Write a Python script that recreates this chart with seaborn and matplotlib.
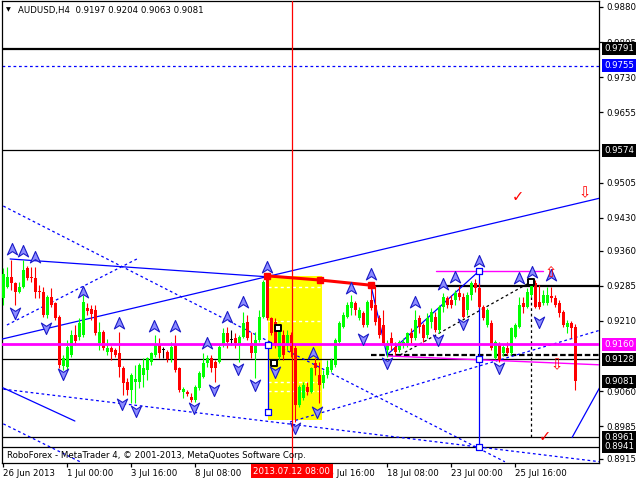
import numpy as np
import pandas as pd
import matplotlib
matplotlib.use("Agg")
import matplotlib.pyplot as plt
import seaborn as sns
from matplotlib.path import Path
from matplotlib.patches import Rectangle

sns.set_theme(style="white")
plt.rcParams["font.family"] = ["DejaVu Sans"]

# ---------------- data (AUDUSD H4) ----------------
opens = [0.9259, 0.9282, 0.9304, 0.9291, 0.9272, 0.9282, 0.9323, 0.9304, 0.9301, 0.9274,
         0.9272, 0.9222, 0.9261, 0.9248, 0.9218, 0.9114, 0.9111, 0.9137, 0.9180, 0.9175,
         0.9180, 0.9237, 0.9235, 0.9233, 0.9163, 0.9186, 0.9143, 0.9152, 0.9148, 0.9141,
         0.9109, 0.9079, 0.9062, 0.9079, 0.9079, 0.9094, 0.9105, 0.9122, 0.9137, 0.9158,
         0.9148, 0.9143, 0.9129, 0.9158, 0.9109, 0.9058, 0.9058, 0.9047, 0.9041, 0.9066,
         0.9090, 0.9120, 0.9131, 0.9122, 0.9122, 0.9158, 0.9184, 0.9169, 0.9173, 0.9158,
         0.9175, 0.9207, 0.9163, 0.9141, 0.9169, 0.9218, 0.9301, 0.9216, 0.9207, 0.9133,
         0.9180, 0.9158, 0.9180, 0.9152, 0.9030, 0.9045, 0.9069, 0.9058, 0.9120, 0.9094,
         0.9077, 0.9094, 0.9105, 0.9116, 0.9165, 0.9197, 0.9218, 0.9237, 0.9248, 0.9216,
         0.9227, 0.9201, 0.9254, 0.9244, 0.9216, 0.9201, 0.9148, 0.9173, 0.9154, 0.9148,
         0.9158, 0.9163, 0.9184, 0.9173, 0.9216, 0.9201, 0.9180, 0.9207, 0.9218, 0.9190,
         0.9239, 0.9259, 0.9254, 0.9254, 0.9269, 0.9261, 0.9233, 0.9265, 0.9291, 0.9280,
         0.9239, 0.9201, 0.9205, 0.9131, 0.9158, 0.9141, 0.9152, 0.9141, 0.9175, 0.9197,
         0.9248, 0.9239, 0.9265, 0.9291, 0.9250, 0.9248, 0.9248, 0.9263, 0.9259, 0.9248,
         0.9229, 0.9197, 0.9205, 0.9197]
highs = [0.9323, 0.9325, 0.9340, 0.9293, 0.9293, 0.9340, 0.9327, 0.9325, 0.9325, 0.9286,
         0.9282, 0.9265, 0.9280, 0.9250, 0.9222, 0.9137, 0.9169, 0.9190, 0.9201, 0.9216,
         0.9265, 0.9248, 0.9244, 0.9244, 0.9207, 0.9190, 0.9171, 0.9156, 0.9152, 0.9186,
         0.9114, 0.9088, 0.9099, 0.9116, 0.9120, 0.9131, 0.9133, 0.9143, 0.9180, 0.9173,
         0.9154, 0.9148, 0.9165, 0.9180, 0.9111, 0.9069, 0.9062, 0.9056, 0.9073, 0.9103,
         0.9141, 0.9137, 0.9137, 0.9126, 0.9158, 0.9195, 0.9197, 0.9190, 0.9184, 0.9180,
         0.9229, 0.9222, 0.9186, 0.9186, 0.9233, 0.9297, 0.9308, 0.9218, 0.9216, 0.9201,
         0.9190, 0.9190, 0.9186, 0.9158, 0.9073, 0.9079, 0.9079, 0.9111, 0.9131, 0.9122,
         0.9105, 0.9126, 0.9131, 0.9173, 0.9210, 0.9229, 0.9250, 0.9265, 0.9252, 0.9239,
         0.9231, 0.9254, 0.9293, 0.9286, 0.9222, 0.9233, 0.9169, 0.9186, 0.9165, 0.9169,
         0.9173, 0.9186, 0.9195, 0.9233, 0.9222, 0.9205, 0.9227, 0.9237, 0.9229, 0.9244,
         0.9269, 0.9263, 0.9265, 0.9276, 0.9284, 0.9269, 0.9272, 0.9295, 0.9299, 0.9291,
         0.9244, 0.9237, 0.9212, 0.9169, 0.9165, 0.9158, 0.9165, 0.9197, 0.9205, 0.9261,
         0.9261, 0.9280, 0.9293, 0.9297, 0.9286, 0.9276, 0.9282, 0.9282, 0.9265, 0.9254,
         0.9233, 0.9212, 0.9210, 0.9204]
lows = [0.9244, 0.9280, 0.9276, 0.9244, 0.9269, 0.9280, 0.9297, 0.9293, 0.9259, 0.9259,
        0.9218, 0.9216, 0.9239, 0.9212, 0.9109, 0.9105, 0.9105, 0.9133, 0.9158, 0.9169,
        0.9175, 0.9222, 0.9212, 0.9180, 0.9148, 0.9148, 0.9137, 0.9126, 0.9133, 0.9090,
        0.9052, 0.9052, 0.9035, 0.9035, 0.9066, 0.9069, 0.9084, 0.9116, 0.9133, 0.9131,
        0.9131, 0.9122, 0.9122, 0.9101, 0.9058, 0.9045, 0.9050, 0.9037, 0.9037, 0.9062,
        0.9088, 0.9111, 0.9101, 0.9079, 0.9120, 0.9154, 0.9152, 0.9158, 0.9152, 0.9122,
        0.9173, 0.9169, 0.9131, 0.9088, 0.9165, 0.9216, 0.9212, 0.9180, 0.9152, 0.9126,
        0.9126, 0.9148, 0.9133, 0.8994, 0.9026, 0.9041, 0.9052, 0.9056, 0.9094, 0.9035,
        0.9066, 0.9088, 0.9101, 0.9111, 0.9158, 0.9195, 0.9216, 0.9222, 0.9222, 0.9212,
        0.9197, 0.9197, 0.9233, 0.9201, 0.9173, 0.9158, 0.9133, 0.9148, 0.9137, 0.9143,
        0.9152, 0.9154, 0.9163, 0.9169, 0.9184, 0.9165, 0.9173, 0.9195, 0.9186, 0.9184,
        0.9229, 0.9237, 0.9237, 0.9244, 0.9254, 0.9216, 0.9222, 0.9254, 0.9272, 0.9237,
        0.9212, 0.9197, 0.9148, 0.9129, 0.9122, 0.9135, 0.9137, 0.9137, 0.9173, 0.9195,
        0.9227, 0.9237, 0.9261, 0.9237, 0.9235, 0.9244, 0.9244, 0.9250, 0.9239, 0.9218,
        0.9197, 0.9184, 0.9173, 0.9063]
closes = [0.9310, 0.9304, 0.9291, 0.9272, 0.9282, 0.9319, 0.9301, 0.9301, 0.9272, 0.9272,
          0.9222, 0.9261, 0.9244, 0.9216, 0.9116, 0.9131, 0.9154, 0.9180, 0.9167, 0.9205,
          0.9250, 0.9231, 0.9225, 0.9184, 0.9186, 0.9152, 0.9152, 0.9143, 0.9137, 0.9111,
          0.9077, 0.9062, 0.9094, 0.9086, 0.9116, 0.9109, 0.9131, 0.9141, 0.9158, 0.9141,
          0.9148, 0.9129, 0.9154, 0.9105, 0.9062, 0.9064, 0.9054, 0.9041, 0.9069, 0.9099,
          0.9120, 0.9131, 0.9109, 0.9109, 0.9154, 0.9184, 0.9165, 0.9169, 0.9163, 0.9175,
          0.9205, 0.9173, 0.9141, 0.9169, 0.9218, 0.9293, 0.9216, 0.9184, 0.9158, 0.9186,
          0.9137, 0.9180, 0.9143, 0.9030, 0.9069, 0.9073, 0.9058, 0.9109, 0.9109, 0.9073,
          0.9094, 0.9111, 0.9126, 0.9169, 0.9205, 0.9222, 0.9244, 0.9250, 0.9233, 0.9233,
          0.9201, 0.9250, 0.9237, 0.9207, 0.9180, 0.9163, 0.9163, 0.9158, 0.9143, 0.9165,
          0.9165, 0.9184, 0.9173, 0.9212, 0.9197, 0.9173, 0.9216, 0.9229, 0.9190, 0.9239,
          0.9261, 0.9244, 0.9244, 0.9269, 0.9261, 0.9218, 0.9265, 0.9291, 0.9280, 0.9239,
          0.9216, 0.9233, 0.9152, 0.9165, 0.9126, 0.9154, 0.9141, 0.9195, 0.9201, 0.9244,
          0.9239, 0.9272, 0.9286, 0.9239, 0.9239, 0.9265, 0.9265, 0.9259, 0.9244, 0.9227,
          0.9201, 0.9205, 0.9195, 0.9081]

# time axis labels (bar index -> label); the label under the cursor box is hidden there
xtick_bars = [0, 16, 32, 48, 64, 80, 96, 112, 128]
xtick_labels = ["26 Jun 2013", "1 Jul 00:00", "3 Jul 16:00", "8 Jul 08:00", "",
                "15 Jul 16:00", "18 Jul 08:00", "23 Jul 00:00", "25 Jul 16:00"]
cursor_bar = 72
cursor_label = "2013.07.12 08:00"

# price scale labels
ytick_vals = [0.9880, 0.9805, 0.9730, 0.9655, 0.9505, 0.9430, 0.9360, 0.9285, 0.9210,
              0.9060, 0.8985, 0.8915]

# horizontal levels
level_black_thick = [0.9791]
level_black_thin = [0.9574, 0.9128, 0.8961, 0.8941]
level_blue_dash = [0.9755]
level_magenta = [0.9160]
level_resist = 0.9285          # black thick, from bar 91.7
level_resist_start = 91.7
level_box = [(0.9791, "black"), (0.9755, "#0000ff"), (0.9574, "black"), (0.9160, "#ff00ff"),
             (0.9128, "black"), (0.9081, "black"), (0.8961, "black"), (0.8941, "black")]

# trend lines (bar0, price0, bar1, price1)
blue_solid = [(-0.3, 0.9171, 149.2, 0.9472),
              (1.7, 0.9342, 65.9, 0.9304),
              (-0.1, 0.9067, 17.9, 0.8996),
              (91.9, 0.9286, 95.9, 0.9137),
              (95.9, 0.9137, 118.9, 0.9316),
              (142.2, 0.8961, 149.2, 0.9069)]
blue_dashed = [(0.0, 0.9455, 125.4, 0.8909),
               (0.9, 0.9201, 33.4, 0.9342),
               (0.0, 0.8990, 19.2, 0.8909),
               (0.0, 0.9064, 149.2, 0.8909),
               (71.7, 0.8994, 149.2, 0.9190)]
black_dashed = [(99.2, 0.9137, 131.9, 0.9293)]
neckline_dash = (92.0, 0.9138)                 # black dashed level from bar 92
magenta_thin = [(96.0, 0.9135, 149.2, 0.9116), (108.2, 0.9316, 134.9, 0.9316)]
red_path_bars = [65.9, 79.2, 91.9]
red_path_prices = [0.9306, 0.9297, 0.9286]

# rectangle + its inner levels
rect_bars = (66.2, 79.7)
rect_prices = (0.8998, 0.9306)
rect_levels = [0.9282, 0.9210, 0.9079, 0.9060]

# vertical segments (bar, price_low, price_high)
blue_vert = [(119.0, 0.8941, 0.9316), (66.2, 0.9015, 0.9158)]
black_vert = [(132.0, 0.8961, 0.9293)]

# anchor squares
blue_sq_bars = [66.2, 66.2, 119.0, 119.0, 119.0]
blue_sq_prices = [0.9158, 0.9015, 0.9316, 0.9128, 0.8941]
black_sq_bars = [68.7, 67.7, 132.0]
black_sq_prices = [0.9194, 0.9120, 0.9293]

# fractals
up_bars = [2.2, 4.9, 7.9, 19.9, 28.9, 37.7, 42.9, 50.9, 55.9, 59.9, 65.9, 77.4, 86.9, 91.9,
           102.9, 109.9, 112.9, 118.9, 128.9, 132.2, 136.9]
up_prices = [0.9363, 0.9359, 0.9346, 0.9272, 0.9205, 0.9199, 0.9199, 0.9163, 0.9218, 0.9250,
             0.9325, 0.9141, 0.9280, 0.9310, 0.9250, 0.9288, 0.9304, 0.9338, 0.9301, 0.9314,
             0.9308]
dn_bars = [2.9, 10.7, 14.9, 29.7, 33.2, 47.7, 52.7, 58.7, 62.9, 67.9, 72.9, 78.4, 89.9, 95.9,
           108.7, 114.9, 123.9, 133.9]
dn_prices = [0.9227, 0.9195, 0.9096, 0.9032, 0.9017, 0.9024, 0.9062, 0.9107, 0.9073, 0.9101,
             0.8981, 0.9015, 0.9171, 0.9120, 0.9169, 0.9203, 0.9109, 0.9207]

# red signal symbols (bar, price, symbol)
signals = [(128.7, 0.9476, "\u2713"), (145.4, 0.9483, "\u21e9"), (138.4, 0.9116, "\u21e9"),
           (135.4, 0.8962, "\u2713"), (136.9, 0.9314, "\u21e7")]

# ---------------- figure ----------------
W, H = 640, 480
fig = plt.figure(figsize=(W / 100, H / 100), dpi=100)
fig.patch.set_facecolor("white")
ax = fig.add_axes([2 / W, 1 - 463 / H, 597 / W, 462 / H])
ax.set_facecolor("white")
ax.set_xlim(-0.325, 148.925)
ax.set_ylim(0.89064, 0.98928)

FS = 6.2
DASH = (0, (2.2, 2.2))

# yellow rectangle with dashed inner levels
ax.add_patch(Rectangle((rect_bars[0], rect_prices[0]), rect_bars[1] - rect_bars[0],
                       rect_prices[1] - rect_prices[0], facecolor="#ffff00", edgecolor="none",
                       zorder=0.5))
ax.hlines(rect_levels, rect_bars[0], rect_bars[1], colors="white", linewidth=1,
          linestyles=DASH, zorder=0.6)

# horizontal levels
ax.axhline(level_black_thick[0], color="black", lw=1.6, zorder=2)
for v in level_black_thin:
    ax.axhline(v, color="black", lw=0.9, zorder=2)
ax.axhline(level_blue_dash[0], color="#0000ff", lw=0.9, ls=DASH, zorder=2)
ax.hlines(level_resist, level_resist_start, 149, colors="black", lw=1.6, zorder=2)
ax.hlines(neckline_dash[1], neckline_dash[0], 149, colors="black", lw=1.6,
          linestyles=(0, (2.5, 1.2)), zorder=2)

# trend lines via seaborn
for b0, p0, b1, p1 in blue_solid:
    sns.lineplot(x=[b0, b1], y=[p0, p1], ax=ax, color="#0000ff", lw=0.9,
                 estimator=None, sort=False, zorder=3)
for b0, p0, b1, p1 in blue_dashed:
    sns.lineplot(x=[b0, b1], y=[p0, p1], ax=ax, color="#0000ff", lw=0.9,
                 linestyle=DASH, estimator=None, sort=False, zorder=3)
for b0, p0, b1, p1 in black_dashed:
    sns.lineplot(x=[b0, b1], y=[p0, p1], ax=ax, color="black", lw=0.9,
                 linestyle=DASH, estimator=None, sort=False, zorder=3)
for b0, p0, b1, p1 in magenta_thin:
    sns.lineplot(x=[b0, b1], y=[p0, p1], ax=ax, color="#ff00ff", lw=1.0,
                 estimator=None, sort=False, zorder=3)
for b, lo, hi in blue_vert:
    ax.vlines(b, lo, hi, colors="#0000ff", lw=0.9, zorder=3)
for b, lo, hi in black_vert:
    ax.vlines(b, lo, hi, colors="black", lw=0.9, linestyles=DASH, zorder=3)

# candles
o = np.array(opens); h = np.array(highs); l = np.array(lows); c = np.array(closes)
xb = np.arange(len(o))
cols = np.where(c > o, "#00ff00", np.where(c < o, "#ff0000", "black"))
ax.vlines(xb, l, h, colors=cols, lw=0.8, zorder=4)
body = np.maximum(np.abs(c - o), 0.00012)
ax.bar(xb, body, bottom=np.minimum(o, c), width=0.72, color=cols, linewidth=0, zorder=4)

# magenta main level (over candles)
ax.axhline(level_magenta[0], color="#ff00ff", lw=2.0, zorder=5)

# red thick path with squares
ax.plot(red_path_bars, red_path_prices, color="#ff0000", lw=2.2, zorder=5,
        marker="s", markersize=5, markerfacecolor="#ff0000", markeredgecolor="#ff0000")

# anchor squares
ax.scatter(blue_sq_bars, blue_sq_prices, marker="s", s=14, facecolor="white",
           edgecolor="#0000ff", linewidths=0.9, zorder=6)
ax.scatter(black_sq_bars, black_sq_prices, marker="s", s=18, facecolor="white",
           edgecolor="black", linewidths=1.4, zorder=6)

# fractal arrows
up_path = Path([(0, 1), (0.85, -0.9), (0, -0.35), (-0.85, -0.9), (0, 1)],
               [Path.MOVETO, Path.LINETO, Path.LINETO, Path.LINETO, Path.CLOSEPOLY])
dn_path = Path([(0, -1), (0.85, 0.9), (0, 0.35), (-0.85, 0.9), (0, -1)],
               [Path.MOVETO, Path.LINETO, Path.LINETO, Path.LINETO, Path.CLOSEPOLY])
ax.scatter(up_bars, up_prices, marker=up_path, s=75, facecolor="#8c8cff",
           edgecolor="#1a1ac8", linewidths=0.8, zorder=7)
ax.scatter(dn_bars, dn_prices, marker=dn_path, s=75, facecolor="#8c8cff",
           edgecolor="#1a1ac8", linewidths=0.8, zorder=7)

# red signals
for b, p, s in signals:
    ax.text(b, p, s, color="#ff0000", fontsize=10.5, ha="center", va="center", zorder=8)

# cursor vertical line
ax.axvline(cursor_bar + 0.1, color="#ff0000", lw=0.9, zorder=9)

# axes styling
for sp in ax.spines.values():
    sp.set_color("black")
    sp.set_linewidth(0.9)
ax.grid(False)
ax.yaxis.tick_right()
ax.set_yticks(ytick_vals)
ax.set_yticklabels([f"{v:.4f}" for v in ytick_vals])
ax.tick_params(axis="y", right=True, left=False, labelright=True, labelleft=False,
               direction="out", length=3, width=0.9, pad=2, labelsize=FS,
               colors="black")
ax.set_xticks(xtick_bars)
ax.set_xticklabels(xtick_labels)
ax.tick_params(axis="x", bottom=True, direction="out", length=3, width=0.9, pad=1.5,
               labelsize=FS, colors="black")
for lab in ax.get_xticklabels():
    lab.set_ha("left")
ax.set_xlabel("")
ax.set_ylabel("")

# header & footer text
fig.text(8 / W, 1 - 10 / H, "\u25bc", fontsize=4.5, color="black", ha="center", va="center")
fig.text(18 / W, 1 - 10 / H, "AUDUSD,H4  0.9197 0.9204 0.9063 0.9081", fontsize=FS,
         color="black", ha="left", va="center")
fig.text(7 / W, 1 - 455 / H, "RoboForex - MetaTrader 4, \u00a9 2001-2013, MetaQuotes Software Corp.",
         fontsize=FS, color="black", ha="left", va="center")

# price boxes at right axis
ylo, yhi = ax.get_ylim()
for val, col in level_box:
    ypix = 1 + (yhi - val) / (yhi - ylo) * 462
    fig.text(604 / W, 1 - ypix / H, f"{val:.4f}", fontsize=FS, color="white", ha="left",
             va="center", zorder=10,
             bbox=dict(boxstyle="square,pad=0.25", facecolor=col, edgecolor="none"))

# cursor date box
xlo, xhi = ax.get_xlim()
xpix = 2 + (cursor_bar + 0.1 - xlo) / (xhi - xlo) * 597
fig.text(xpix / W, 1 - 471 / H, cursor_label, fontsize=FS, color="white", ha="center",
         va="center", zorder=10,
         bbox=dict(boxstyle="square,pad=0.3", facecolor="#ff0000", edgecolor="none"))

fig.savefig("out.png", dpi=100)
